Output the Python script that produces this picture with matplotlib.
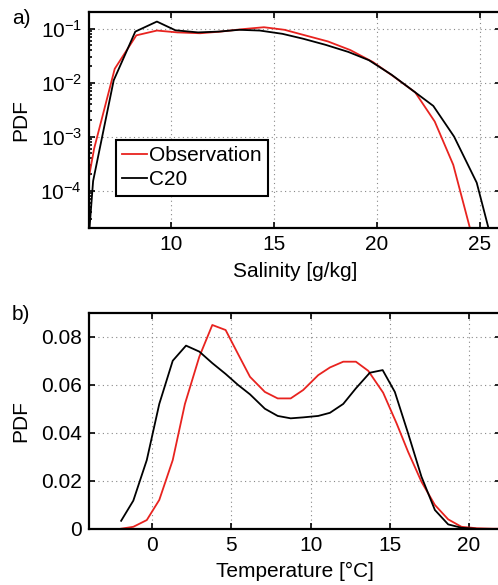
import matplotlib.pyplot as plt
from matplotlib.ticker import LogLocator, NullFormatter

plt.rcParams['font.family'] = ['Liberation Sans', 'DejaVu Sans']
plt.rcParams['font.size'] = 15

# Salinity PDF (panel a)
sal_obs_x = [6.0, 6.25, 7.25, 8.3, 9.3, 10.3, 11.4, 12.4, 13.5, 14.5, 15.5, 16.5,
             17.6, 18.7, 19.8, 20.8, 21.85, 22.8, 23.7, 24.6]
sal_obs_y = [1.8e-4, 6e-4, 0.018, 0.075, 0.092, 0.085, 0.082, 0.088, 0.098, 0.106,
             0.095, 0.075, 0.058, 0.040, 0.024, 0.013, 0.0066, 0.0019, 3e-4, 1.5e-5]
sal_c20_x = [6.0, 6.2, 7.2, 8.25, 9.3, 10.2, 11.3, 12.3, 13.3, 14.3, 15.4, 16.4,
             17.5, 18.6, 19.6, 20.7, 21.76, 22.73, 23.74, 24.84, 25.5]
sal_c20_y = [1.5e-5, 1.5e-4, 0.011, 0.088, 0.135, 0.093, 0.085, 0.088, 0.095, 0.092,
             0.080, 0.065, 0.050, 0.037, 0.026, 0.014, 0.007, 0.0037, 1e-3, 1.4e-4, 1.5e-5]

# Temperature PDF (panel b)
tem_obs_x = [-1.98, -1.2, -0.35, 0.44, 1.29, 2.06, 2.97, 3.79, 4.63, 5.4, 6.17, 7.11,
             7.92, 8.74, 9.53, 10.48, 11.22, 12.06, 12.86, 13.64, 14.58, 15.43, 16.16,
             17.0, 17.85, 18.69, 19.53, 20.5, 21.5, 22.0]
tem_obs_y = [0.0, 0.0008, 0.0036, 0.012, 0.0286, 0.052, 0.0717, 0.0849, 0.0828, 0.073,
             0.0633, 0.057, 0.0543, 0.0543, 0.0578, 0.064, 0.0672, 0.0696, 0.0696,
             0.0658, 0.0567, 0.0439, 0.032, 0.0196, 0.0099, 0.0039, 0.0008, 0.0002,
             0.0, 0.0]
tem_c20_x = [-1.97, -1.2, -0.35, 0.44, 1.29, 2.13, 2.97, 3.79, 4.63, 5.4, 6.17, 7.11,
             7.92, 8.74, 9.53, 10.48, 11.22, 12.06, 12.86, 13.74, 14.55, 15.32, 16.16,
             17.0, 17.85, 18.69, 19.53, 20.4]
tem_c20_y = [0.0033, 0.0117, 0.0286, 0.052, 0.070, 0.0763, 0.0738, 0.069, 0.0645,
             0.060, 0.056, 0.050, 0.047, 0.046, 0.0464, 0.047, 0.0483, 0.052, 0.0585,
             0.065, 0.0661, 0.057, 0.0397, 0.0217, 0.0078, 0.0018, 0.0004, 0.0]

red = '#e8231f'

fig = plt.figure(figsize=(4.98, 5.85), dpi=100)
ax1 = fig.add_axes([0.1787, 0.6097, 0.8265, 0.3692])
ax2 = fig.add_axes([0.1787, 0.0962, 0.8265, 0.3692])

# Panel a
ax1.semilogy(sal_obs_x, sal_obs_y, color=red, lw=1.3, label='Observation')
ax1.semilogy(sal_c20_x, sal_c20_y, color='black', lw=1.3, label='C20')
ax1.set_xlim(6, 26)
ax1.set_ylim(2e-5, 0.2)
ax1.set_xticks([10, 15, 20, 25])
ax1.set_yticks([1e-4, 1e-3, 1e-2, 1e-1])
ax1.yaxis.set_minor_locator(LogLocator(base=10, subs=range(2, 10), numticks=20))
ax1.yaxis.set_minor_formatter(NullFormatter())
ax1.set_xlabel('Salinity [g/kg]')
ax1.set_ylabel('PDF')
ax1.legend(loc='upper left', bbox_to_anchor=(0.065, 0.409), frameon=True,
           fancybox=False, edgecolor='black', framealpha=1, handlelength=1.2,
           handletextpad=0.1, borderpad=0.3, labelspacing=0.25, borderaxespad=0)
ax1.get_legend().get_frame().set_linewidth(1.5)

# Panel b
ax2.plot(tem_obs_x, tem_obs_y, color=red, lw=1.3)
ax2.plot(tem_c20_x, tem_c20_y, color='black', lw=1.3)
ax2.set_xlim(-4, 22)
ax2.set_ylim(0, 0.09)
ax2.set_xticks([0, 5, 10, 15, 20])
ax2.set_yticks([0, 0.02, 0.04, 0.06, 0.08])
ax2.set_yticklabels(['0', '0.02', '0.04', '0.06', '0.08'])
ax2.set_xlabel('Temperature [\u00b0C]')
ax2.set_ylabel('PDF')

for ax in (ax1, ax2):
    ax.grid(True, which='major', linestyle=(0, (1, 3)), color='#888888', lw=0.8)
    ax.tick_params(which='both', direction='in', top=True, right=True, width=1.2)
    ax.tick_params(which='major', length=4, pad=5)
    ax.tick_params(which='minor', length=2)
    for s in ax.spines.values():
        s.set_linewidth(1.6)
    ax.yaxis.set_label_coords(-0.143, 0.5)
    ax.xaxis.set_label_coords(0.5, -0.155)

fig.text(12 / 498, 1 - 19 / 585, 'a)', ha='left', va='center', fontsize=15)
fig.text(12 / 498, 1 - 315 / 585, 'b)', ha='left', va='center', fontsize=15)

fig.savefig('out.png', dpi=100)
